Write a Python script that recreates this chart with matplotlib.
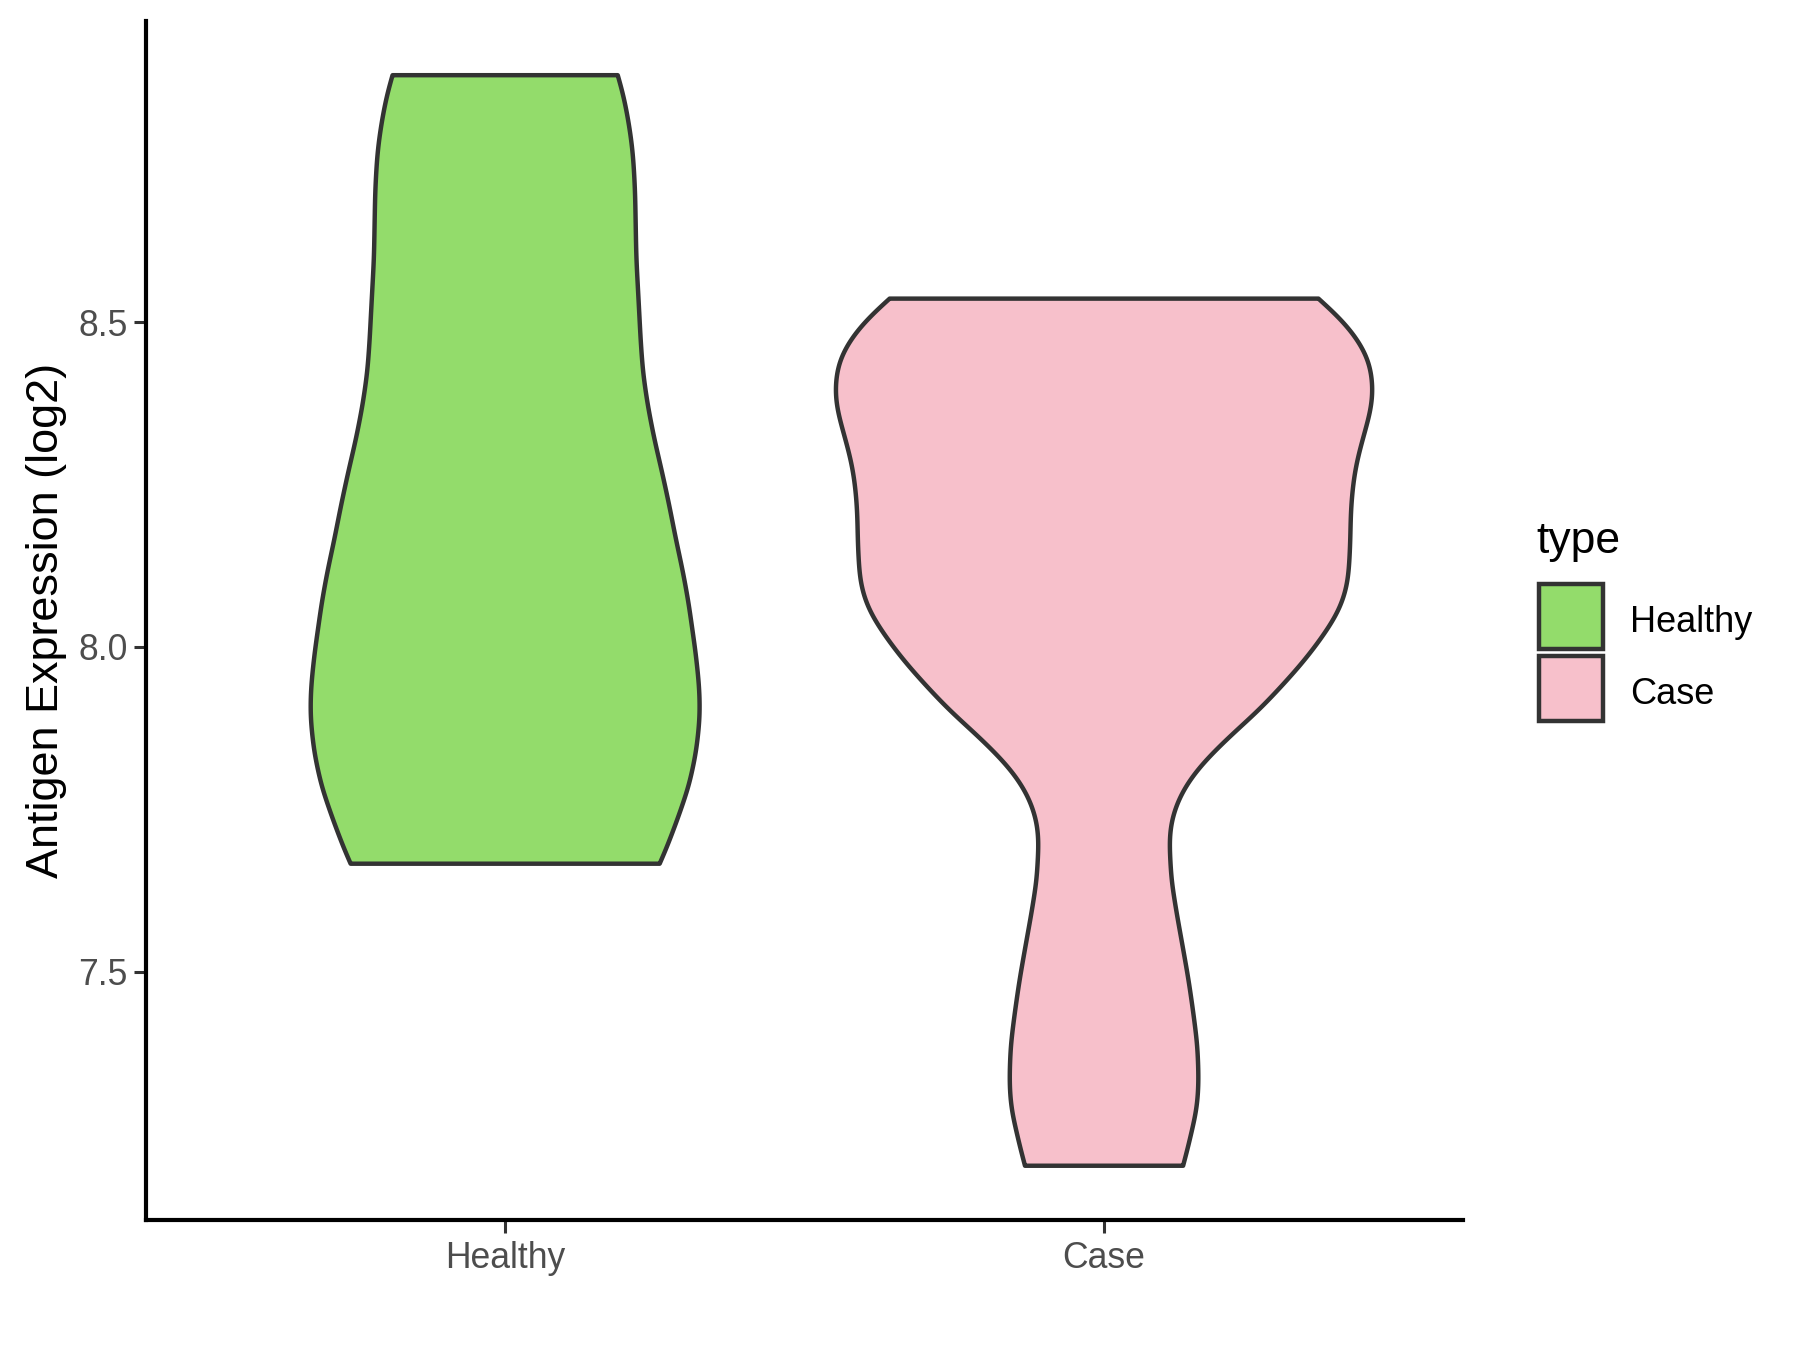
import matplotlib.pyplot as plt
from matplotlib.patches import Rectangle
import numpy as np

# violin outlines: expression level and half width (x units)
categories = ["Healthy", "Case"]
fill_colors = ["#93DC6B", "#F7C0CB"]

healthy_y = [8.880, 8.855, 8.829, 8.803, 8.778, 8.752, 8.701, 8.649, 8.598,
             8.547, 8.495, 8.475, 8.423, 8.372, 8.320, 8.269, 8.218, 8.166,
             8.115, 8.064, 8.043, 7.992, 7.940, 7.915, 7.889, 7.838, 7.786,
             7.735, 7.684, 7.666]
healthy_hw = [0.188, 0.196, 0.202, 0.207, 0.211, 0.214, 0.217, 0.218, 0.219,
              0.222, 0.225, 0.226, 0.230, 0.238, 0.249, 0.262, 0.274, 0.285,
              0.297, 0.307, 0.310, 0.318, 0.324, 0.325, 0.325, 0.319, 0.307,
              0.288, 0.267, 0.258]

case_y = [8.536, 8.516, 8.490, 8.464, 8.439, 8.413, 8.387, 8.362, 8.336,
          8.310, 8.285, 8.259, 8.233, 8.208, 8.156, 8.105, 8.079, 8.053,
          8.028, 8.002, 7.976, 7.951, 7.925, 7.899, 7.874, 7.848, 7.822,
          7.797, 7.771, 7.745, 7.720, 7.694, 7.668, 7.643, 7.591, 7.540,
          7.488, 7.437, 7.386, 7.334, 7.309, 7.283, 7.257, 7.232, 7.201]
case_hw = [0.358, 0.383, 0.410, 0.430, 0.443, 0.448, 0.449, 0.445, 0.437,
           0.429, 0.422, 0.417, 0.414, 0.412, 0.411, 0.408, 0.402, 0.391,
           0.374, 0.354, 0.332, 0.308, 0.282, 0.255, 0.224, 0.194, 0.166,
           0.144, 0.127, 0.116, 0.110, 0.109, 0.111, 0.112, 0.121, 0.131,
           0.141, 0.149, 0.156, 0.158, 0.157, 0.154, 0.147, 0.141, 0.132]

ylabel = "Antigen Expression (log2)"
yticks = [7.5, 8.0, 8.5]


def outline(y, w, n=800, sigma=0.018):
    """Resample the read outline and soften it a little (reading jitter)."""
    order = np.argsort(y)
    y = np.asarray(y, float)[order]
    w = np.asarray(w, float)[order]
    ys = np.linspace(y[0], y[-1], n)
    ws = np.interp(ys, y, w)
    step = ys[1] - ys[0]
    k = int(4 * sigma / step)
    kern = np.exp(-0.5 * (np.arange(-k, k + 1) * step / sigma) ** 2)
    kern /= kern.sum()
    # odd reflection keeps the slope at both ends
    lo = 2 * ws[0] - ws[1:k + 1][::-1]
    hi = 2 * ws[-1] - ws[-k - 1:-1][::-1]
    ws = np.convolve(np.concatenate([lo, ws, hi]), kern, mode="valid")
    return ys, ws


plt.rcParams["font.family"] = ["Liberation Sans", "DejaVu Sans"]

fig = plt.figure(figsize=(9, 6.75), dpi=200)
ax = fig.add_axes([0.081, 0.0961, 0.732, 0.8886])

outlines = [(healthy_y, healthy_hw), (case_y, case_hw)]
for pos, (yy, hw), color in zip([1, 2], outlines, fill_colors):
    ys, ws = outline(yy, hw)
    xs = np.concatenate([pos - ws[::-1], pos + ws])
    yv = np.concatenate([ys[::-1], ys])
    ax.fill(xs, yv, facecolor=color, edgecolor="#333333", linewidth=1.6,
            joinstyle="round", zorder=2)

all_y = healthy_y + case_y
lo, hi = min(all_y), max(all_y)
pad = (hi - lo) * 0.05
ax.set_ylim(lo - pad, hi + pad)
ax.set_xlim(0.4, 2.6)

ax.set_xticks([1, 2])
ax.set_xticklabels(categories)
ax.set_yticks(yticks)
ax.set_yticklabels([f"{v:.1f}" for v in yticks])
ax.tick_params(axis="both", colors="#333333", width=1.1, length=4.5,
               labelsize=12.8, labelcolor="#4D4D4D")
ax.tick_params(axis="x", pad=2.8)
ax.tick_params(axis="y", pad=2.0)
ax.set_ylabel(ylabel, fontsize=16.2, color="black", labelpad=4.2)

for side in ["top", "right"]:
    ax.spines[side].set_visible(False)
for side in ["left", "bottom"]:
    ax.spines[side].set_linewidth(1.5)
    ax.spines[side].set_color("black")

# legend drawn by hand to sit like the ggplot guide
W, H = 1800, 1350
fig.text(1536 / W, 1 - 541 / H, "type", fontsize=16, va="center", ha="left")
for i, (lab, color) in enumerate(zip(categories, fill_colors)):
    y0 = 584 + i * 72
    fig.patches.append(Rectangle((1539 / W, 1 - (y0 + 65) / H), 64 / W, 65 / H,
                                 transform=fig.transFigure, facecolor=color,
                                 edgecolor="#333333", linewidth=1.6))
    fig.text(1630 / W, 1 - (y0 + 39) / H, lab, fontsize=13, va="center",
             ha="left")

fig.savefig("out.png", dpi=200)
